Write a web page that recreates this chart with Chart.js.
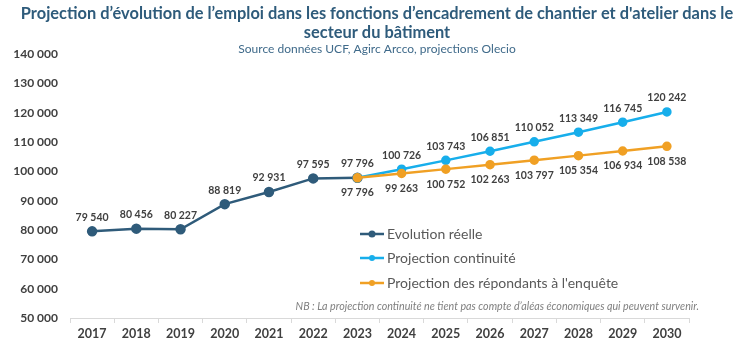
<!DOCTYPE html>
<html>
<head>
<meta charset="utf-8">
<script src="https://cdn.jsdelivr.net/npm/chart.js@4"></script>
<style>
  html, body { margin: 0; padding: 0; background: #fff; }
  #myChart { display: block; }
</style>
</head>
<body>
<canvas id="myChart" width="756" height="347"></canvas>
<script>
const years = ["2017", "2018", "2019", "2020", "2021", "2022", "2023", "2024", "2025", "2026", "2027", "2028", "2029", "2030"];
const evolutionReelle = [79540, 80456, 80227, 88819, 92931, 97595, 97796, null, null, null, null, null, null, null];
const projContinuite = [null, null, null, null, null, null, 97796, 100726, 103743, 106851, 110052, 113349, 116745, 120242];
const projRepondants = [null, null, null, null, null, null, 97796, 99263, 100752, 102263, 103797, 105354, 106934, 108538];
const yTicks = [50000, 60000, 70000, 80000, 90000, 100000, 110000, 120000, 130000, 140000];

const titleLines = [
    "Projection d\u2019évolution de l\u2019emploi dans les fonctions d\u2019encadrement de chantier et d'atelier dans le",
    "secteur du bâtiment"
];
const subtitle = "Source données UCF, Agirc Arcco, projections Olecio";
const note = "NB : La projection continuité ne tient pas compte d\u2019aléas économiques qui peuvent survenir.";

const FONT = "Lato, 'Open Sans', sans-serif";

function fmt(v) {
    return v.toString().replace(/\B(?=(\d{3})+(?!\d))/g, " ");
}

// draws title, subtitle, note, legend and value labels
const decorations = {
    id: "decorations",
    afterDatasetsDraw(chart) {
        const c = chart.ctx;
        c.save();
        c.textAlign = "center";
        c.textBaseline = "middle";

        // value labels
        c.font = "bold 10.5px " + FONT;
        c.fillStyle = "#404040";
        chart.data.datasets.forEach((ds, i) => {
            const meta = chart.getDatasetMeta(i);
            meta.data.forEach((pt, j) => {
                const v = ds.data[j];
                if (v == null) return;
                if (ds.skipLabel && ds.skipLabel.includes(j)) return;
                const dy = ds.labelBelow ? 15 : -14;
                c.fillText(fmt(v), pt.x, pt.y + dy);
            });
        });

        // title
        c.fillStyle = "#2E5B7B";
        c.font = "bold 16.4px " + FONT;
        c.fillText(titleLines[0], 377, 14);
        c.fillText(titleLines[1], 377, 33);
        c.font = "12px " + FONT;
        c.fillStyle = "#3F6A8A";
        c.fillText(subtitle, 377, 49);

        // note
        c.font = "italic 10.7px " + FONT;
        c.fillStyle = "#7F7F7F";
        c.textAlign = "right";
        c.fillText(note, 699, 307);

        // legend
        const rows = [234, 258, 283];
        c.textAlign = "left";
        c.font = "14px " + FONT;
        chart.data.datasets.forEach((ds, i) => {
            const y = rows[i];
            c.strokeStyle = ds.borderColor;
            c.lineWidth = 2.5;
            c.beginPath();
            c.moveTo(360, y);
            c.lineTo(384, y);
            c.stroke();
            c.fillStyle = ds.borderColor;
            c.beginPath();
            c.arc(372, y, i === 0 ? 3.5 : 3, 0, Math.PI * 2);
            c.fill();
            c.fillStyle = "#595959";
            c.fillText(ds.label, 387, y + 0.5);
        });
        c.restore();
    }
};

new Chart(document.getElementById("myChart"), {
    type: "line",
    data: {
        labels: years,
        datasets: [
            {
                label: "Evolution réelle",
                data: evolutionReelle,
                borderColor: "#2F5B7A",
                backgroundColor: "#2F5B7A",
                borderWidth: 2.5,
                pointRadius: 4,
                order: 2
            },
            {
                label: "Projection continuité",
                data: projContinuite,
                borderColor: "#17AEEB",
                backgroundColor: "#17AEEB",
                borderWidth: 2.5,
                pointRadius: 3.5,
                skipLabel: [6],
                order: 1
            },
            {
                label: "Projection des répondants à l'enquête",
                data: projRepondants,
                borderColor: "#F0A024",
                backgroundColor: "#F0A024",
                borderWidth: 2.5,
                pointRadius: 3.5,
                labelBelow: true,
                order: 0
            }
        ]
    },
    options: {
        responsive: false,
        animation: false,
        spanGaps: false,
        layout: { padding: { top: 54, left: 10, right: 67, bottom: 4 } },
        plugins: {
            legend: { display: false },
            tooltip: { enabled: false }
        },
        scales: {
            x: {
                offset: true,
                grid: {
                    offset: true,
                    drawOnChartArea: false,
                    drawTicks: true,
                    tickLength: 5,
                    color: "#D9D9D9"
                },
                border: { display: true, color: "#D9D9D9", width: 1 },
                ticks: {
                    padding: 3,
                    color: "#404040",
                    font: { family: FONT, size: 12.5, weight: "bold" }
                },
                afterFit: (s) => { s.height = 25; }
            },
            y: {
                min: 50000,
                max: 140000,
                grid: { display: false, drawTicks: false },
                border: { display: false },
                afterBuildTicks: (s) => { s.ticks = yTicks.map((v) => ({ value: v })); },
                ticks: {
                    padding: 12,
                    color: "#404040",
                    font: { family: FONT, size: 12, weight: "bold" },
                    callback: (v) => fmt(v)
                },
                afterFit: (s) => { s.width = 60; }
            }
        }
    },
    plugins: [decorations]
});
</script>
</body>
</html>
